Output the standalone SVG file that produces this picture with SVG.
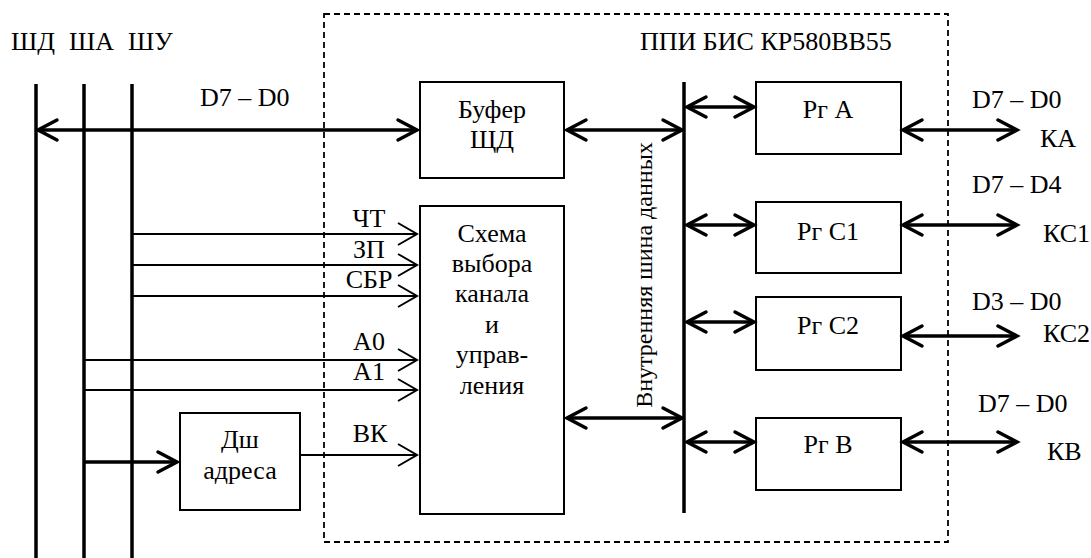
<svg xmlns="http://www.w3.org/2000/svg" width="1091" height="558" viewBox="0 0 1091 558">
  <style>
    text { font-family: "Liberation Serif", "Times New Roman", Times, Tinos, "Noto Serif", "DejaVu Serif", FreeSerif, serif; font-size: 26px; fill: #000; }
    .mid { text-anchor: middle; }
    .box { fill: #fff; stroke: #000; stroke-width: 2; }
    .bus { stroke: #000; stroke-width: 3.5; fill: none; }
    .thick { stroke: #000; stroke-width: 3.5; fill: none; marker-end: url(#chevT); }
    .both { marker-start: url(#chevT); }
    .thin { stroke: #000; stroke-width: 2; fill: none; marker-end: url(#chevN); }
    .frame { fill: none; stroke: #000; stroke-width: 1.8; stroke-dasharray: 6 4; }
  </style>
  <defs>
    <marker id="chevT" viewBox="-24 -14 28 28" markerWidth="28" markerHeight="28" refX="0" refY="0" orient="auto-start-reverse" markerUnits="userSpaceOnUse">
      <path d="M-19,-10 L0,0 L-19,10" fill="none" stroke="#000" stroke-width="3.5" stroke-linecap="round" stroke-linejoin="miter"/>
    </marker>
    <marker id="chevN" viewBox="-24 -14 28 28" markerWidth="28" markerHeight="28" refX="0" refY="0" orient="auto" markerUnits="userSpaceOnUse">
      <path d="M-19,-11 L0,0 L-19,11" fill="none" stroke="#000" stroke-width="2" stroke-linejoin="miter"/>
    </marker>
  </defs>

  <!-- chip boundary -->
  <g id="chip">
    <rect class="frame" x="324" y="14" width="624" height="528"/>
    <text x="640" y="50">ППИ БИС КР580ВВ55</text>
  </g>

  <!-- system buses -->
  <g id="system-buses">
    <text x="11" y="50">ШД</text>
    <text x="69" y="50">ША</text>
    <text x="128" y="50">ШУ</text>
    <line class="bus" x1="36" y1="84" x2="36" y2="558"/>
    <line class="bus" x1="84" y1="84" x2="84" y2="558"/>
    <line class="bus" x1="132" y1="84" x2="132" y2="558"/>
  </g>

  <!-- internal data bus -->
  <g id="internal-bus">
    <line class="bus" x1="684" y1="82" x2="684" y2="513"/>
    <text class="mid" transform="translate(652 275) rotate(-90)" style="font-size:24px">Внутренняя шина данных</text>
  </g>

  <g id="buffer">
    <rect class="box" x="420" y="82" width="144" height="96"/>
    <text class="mid" x="492" y="118">Буфер</text>
    <text class="mid" x="492" y="148">ЩД</text>
  </g>

  <g id="control">
    <rect class="box" x="420" y="206" width="144" height="308"/>
    <text class="mid" x="492" y="242">Схема</text>
    <text class="mid" x="492" y="272">выбора</text>
    <text class="mid" x="492" y="302">канала</text>
    <text class="mid" x="492" y="333">и</text>
    <text class="mid" x="492" y="363">управ-</text>
    <text class="mid" x="492" y="394">ления</text>
  </g>

  <g id="decoder">
    <rect class="box" x="180" y="413" width="120" height="97"/>
    <text class="mid" x="240" y="448">Дш</text>
    <text class="mid" x="240" y="479">адреса</text>
  </g>

  <g id="reg-a">
    <rect class="box" x="756" y="82" width="145" height="72"/>
    <text class="mid" x="828" y="118">Рг А</text>
  </g>
  <g id="reg-c1">
    <rect class="box" x="756" y="202" width="145" height="71"/>
    <text class="mid" x="828" y="240">Рг С1</text>
  </g>
  <g id="reg-c2">
    <rect class="box" x="756" y="297" width="145" height="73"/>
    <text class="mid" x="828" y="334">Рг С2</text>
  </g>
  <g id="reg-b">
    <rect class="box" x="756" y="418" width="145" height="72"/>
    <text class="mid" x="828" y="453">Рг В</text>
  </g>

  <!-- connectors -->
  <g id="connectors">
    <!-- data bus to buffer -->
    <line class="thick both" x1="38" y1="130" x2="417" y2="130"/>
    <text x="200" y="106">D7 – D0</text>
    <!-- buffer / control to internal bus -->
    <line class="thick both" x1="567" y1="130" x2="682" y2="130"/>
    <line class="thick both" x1="567" y1="418" x2="682" y2="418"/>
    <!-- internal bus to registers -->
    <line class="thick both" x1="687" y1="107" x2="754" y2="107"/>
    <line class="thick both" x1="687" y1="225" x2="754" y2="225"/>
    <line class="thick both" x1="687" y1="322" x2="754" y2="322"/>
    <line class="thick both" x1="687" y1="442" x2="754" y2="442"/>
    <!-- registers to ports -->
    <line class="thick both" x1="903" y1="130" x2="1017" y2="130"/>
    <line class="thick both" x1="903" y1="225" x2="1017" y2="225"/>
    <line class="thick both" x1="903" y1="336" x2="1017" y2="336"/>
    <line class="thick both" x1="903" y1="442" x2="1017" y2="442"/>
    <text x="972" y="108">D7 – D0</text>
    <text x="1040" y="147">КА</text>
    <text x="972" y="193">D7 – D4</text>
    <text x="1043" y="242">КС1</text>
    <text x="972" y="310">D3 – D0</text>
    <text x="1043" y="342">КС2</text>
    <text x="978" y="412">D7 – D0</text>
    <text x="1047" y="460">КВ</text>
    <!-- control signals -->
    <line class="thin" x1="132" y1="234" x2="417" y2="234"/>
    <line class="thin" x1="132" y1="265" x2="417" y2="265"/>
    <line class="thin" x1="132" y1="296" x2="417" y2="296"/>
    <line class="thin" x1="84" y1="360" x2="417" y2="360"/>
    <line class="thin" x1="84" y1="390" x2="417" y2="390"/>
    <line class="thin" x1="300" y1="455" x2="417" y2="455"/>
    <line class="thick" x1="84" y1="462" x2="177" y2="462"/>
    <text class="mid" x="369" y="227">ЧТ</text>
    <text class="mid" x="369" y="258">ЗП</text>
    <text class="mid" x="369" y="288">СБР</text>
    <text class="mid" x="369" y="350">A0</text>
    <text class="mid" x="369" y="380">A1</text>
    <text class="mid" x="370" y="442">ВК</text>
  </g>
</svg>
